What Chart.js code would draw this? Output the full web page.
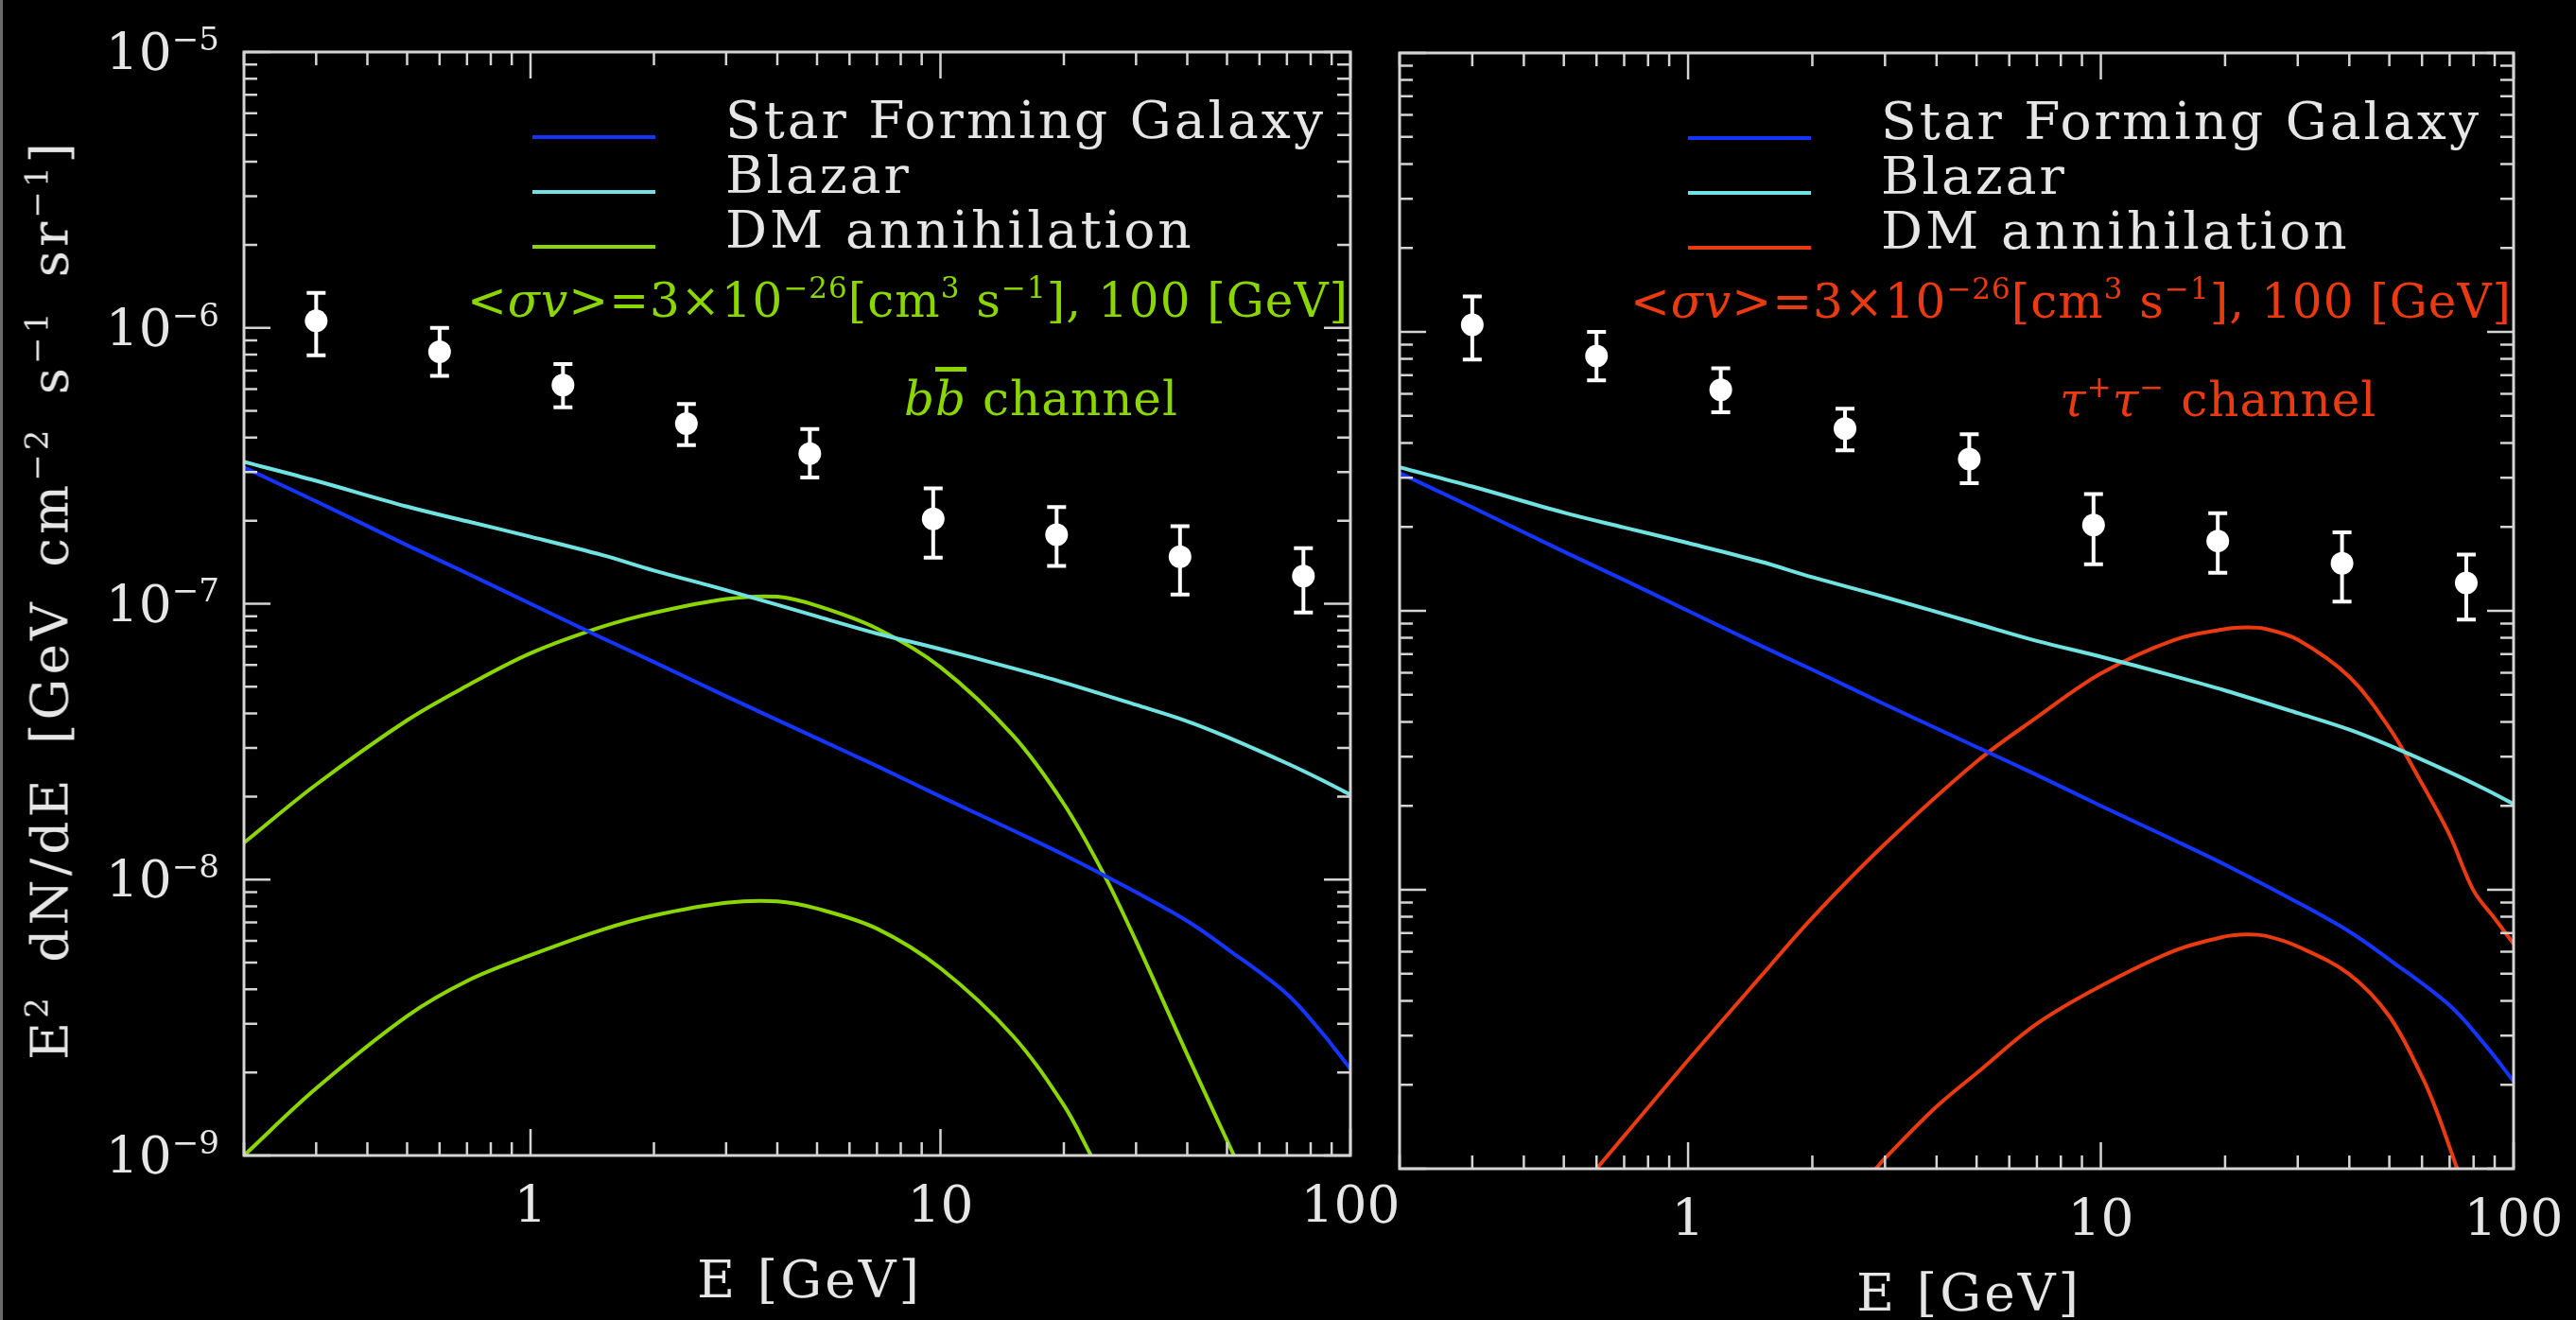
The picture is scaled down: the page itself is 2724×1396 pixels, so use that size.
<!DOCTYPE html>
<html lang="en">
<head>
<meta charset="UTF-8">
<title>Diffuse gamma-ray spectrum: SFG, blazar and DM annihilation</title>
<script src="https://cdn.jsdelivr.net/npm/chart.js"></script>
<style>
  * { margin: 0; padding: 0; box-sizing: border-box; }
  html, body { background: #000; }
  body {
    width: 2724px; height: 1396px; position: relative; overflow: hidden;
    font-family: 'DejaVu Serif', serif; color: #e6e6e6;
  }
  canvas { position: absolute; top: 0; }
  #edge { position: absolute; left: 0; top: 0; width: 3px; height: 1396px; background: #6a6a6a; }
  .lbl { position: absolute; white-space: nowrap; line-height: 1; }
  .lbl sup { font-size: 0.62em; position: relative; top: -0.62em; vertical-align: baseline; }
  .tick { font-size: 55px; }
  .axis { font-size: 55px; letter-spacing: 3px; }
  .legend { font-size: 55px; letter-spacing: 3px; }
  .note { font-size: 50px; letter-spacing: 1px; }
  .swatch { position: absolute; height: 4px; }
  #ytitle { font-size: 55px; letter-spacing: 4px; word-spacing: 12px; }
</style>
</head>
<body>
<div id="edge"></div>
<canvas id="left" width="1450" height="1396" style="left:0"></canvas>
<canvas id="right" width="1274" height="1396" style="left:1450px"></canvas>

<script>
// shared energy grid [GeV] for the astrophysical components
const energyGrid = [0.2, 0.3, 0.5, 0.7, 1, 1.5, 2, 3, 5, 7, 10, 15, 20, 30, 40, 50, 70, 85, 100];
const starFormingFlux = [3.12e-7, 2.35e-7, 1.63e-7, 1.29e-7, 1.0e-7, 7.5e-8, 6.15e-8, 4.62e-8, 3.25e-8,
                         2.58e-8, 2.0e-8, 1.51e-8, 1.23e-8, 9.0e-9, 7.08e-9, 5.62e-9, 3.85e-9, 2.8e-9, 2.06e-9];
const blazarFlux = [3.27e-7, 2.79e-7, 2.25e-7, 1.99e-7, 1.75e-7, 1.50e-7, 1.32e-7, 1.12e-7, 9.0e-8,
                    7.8e-8, 6.85e-8, 5.84e-8, 5.18e-8, 4.30e-8, 3.75e-8, 3.29e-8, 2.64e-8, 2.3e-8, 2.03e-8];

// b bbar channel, two normalisations
const bbUpperE    = [0.2, 0.3, 0.5, 0.7, 1, 1.5, 2, 3, 4, 5, 7, 10, 15, 20, 25, 30, 40, 52];
const bbUpperFlux = [1.36e-8, 2.21e-8, 3.78e-8, 5.04e-8, 6.61e-8, 8.26e-8, 9.27e-8, 1.04e-7, 1.06e-7, 9.83e-8,
                     8.13e-8, 5.89e-8, 3.34e-8, 1.88e-8, 1.05e-8, 5.98e-9, 2.32e-9, 1.0e-9];
const bbLowerE    = [0.2, 0.3, 0.5, 0.7, 1, 1.5, 2, 3, 4, 5, 7, 10, 15, 20, 23.3];
const bbLowerFlux = [1.0e-9, 1.75e-9, 3.20e-9, 4.29e-9, 5.32e-9, 6.59e-9, 7.41e-9, 8.24e-9, 8.34e-9, 7.85e-9,
                     6.64e-9, 4.77e-9, 2.72e-9, 1.52e-9, 1.0e-9];

// tau+ tau- channel, two normalisations
const tauUpperE    = [0.6, 0.7, 1, 1.5, 2, 3, 5, 7, 10, 15, 20, 22.5, 25, 30, 40, 50, 60, 70, 80, 90, 100];
const tauUpperFlux = [1.0e-9, 1.31e-9, 2.45e-9, 4.89e-9, 7.94e-9, 1.46e-8, 2.88e-8, 4.15e-8, 5.96e-8, 7.85e-8,
                      8.6e-8, 8.72e-8, 8.62e-8, 7.88e-8, 5.80e-8, 3.80e-8, 2.40e-8, 1.57e-8, 9.93e-9, 7.89e-9, 6.4e-9];
const tauLowerE    = [2.85, 3, 4, 5, 7, 10, 15, 20, 22.5, 25, 30, 40, 50, 60, 65, 73];
const tauLowerFlux = [1.0e-9, 1.09e-9, 1.67e-9, 2.20e-9, 3.31e-9, 4.52e-9, 6.03e-9, 6.8e-9, 6.92e-9, 6.84e-9,
                      6.26e-9, 4.98e-9, 3.52e-9, 2.14e-9, 1.62e-9, 1.0e-9];

// measured background with 1-sigma limits
const obsE    = [0.3, 0.6, 1.2, 2.4, 4.8, 9.6, 19.2, 38.4, 76.8];
const obsFlux = [1.06e-6, 8.2e-7, 6.2e-7, 4.5e-7, 3.5e-7, 2.03e-7, 1.78e-7, 1.48e-7, 1.26e-7];
const obsHigh = [1.34e-6, 1.0e-6, 7.4e-7, 5.3e-7, 4.3e-7, 2.62e-7, 2.24e-7, 1.91e-7, 1.59e-7];
const obsLow  = [7.96e-7, 6.7e-7, 5.15e-7, 3.76e-7, 2.87e-7, 1.47e-7, 1.37e-7, 1.08e-7, 9.3e-8];

const xTickLabels = ['1', '10', '100'];
const yTickExponents = [-9, -8, -7, -6, -5];
const legendNames = ['Star Forming Galaxy', 'Blazar', 'DM annihilation'];

const BLUE = '#1535ff', CYAN = '#70e2e2', GREEN = '#8cd600', RED = '#ea3a12';
const FRAME = '#d4d4d4';

const pairs = (xs, ys) => xs.map((x, i) => ({ x, y: ys[i] }));

function curve(xs, ys, color) {
  return {
    data: pairs(xs, ys), showLine: true, borderColor: color, borderWidth: 4,
    pointRadius: 0, tension: 0.35, fill: false
  };
}

// box with inward ticks on all four sides
const framePlugin = {
  id: 'frame',
  afterDatasetsDraw(chart) {
    const { ctx, chartArea: a, scales: { x, y } } = chart;
    ctx.save();
    ctx.strokeStyle = FRAME;
    ctx.lineWidth = 2.5;
    ctx.beginPath();
    for (let d = -1; d <= 2; d++) {
      for (let m = 1; m <= 9; m++) {
        const v = m * Math.pow(10, d);
        if (v < x.min * 0.999 || v > x.max * 1.001) continue;
        const px = x.getPixelForValue(v), len = m === 1 ? 28 : 14;
        ctx.moveTo(px, a.bottom); ctx.lineTo(px, a.bottom - len);
        ctx.moveTo(px, a.top); ctx.lineTo(px, a.top + len);
      }
    }
    for (let d = -9; d <= -5; d++) {
      for (let m = 1; m <= 9; m++) {
        const v = m * Math.pow(10, d);
        if (v < y.min * 0.999 || v > y.max * 1.001) continue;
        const py = y.getPixelForValue(v), len = m === 1 ? 28 : 14;
        ctx.moveTo(a.left, py); ctx.lineTo(a.left + len, py);
        ctx.moveTo(a.right, py); ctx.lineTo(a.right - len, py);
      }
    }
    ctx.stroke();
    ctx.lineWidth = 3;
    ctx.strokeRect(a.left, a.top, a.right - a.left, a.bottom - a.top);
    ctx.restore();
  }
};

// vertical error bars with caps for the measured points
const errorBarPlugin = {
  id: 'errorBars',
  afterDatasetsDraw(chart) {
    const { ctx, scales: { x, y } } = chart;
    ctx.save();
    ctx.strokeStyle = '#fff';
    ctx.lineWidth = 4;
    ctx.beginPath();
    obsE.forEach((e, i) => {
      const px = x.getPixelForValue(e);
      const hi = y.getPixelForValue(obsHigh[i]), lo = y.getPixelForValue(obsLow[i]);
      ctx.moveTo(px, hi); ctx.lineTo(px, lo);
      ctx.moveTo(px - 10, hi); ctx.lineTo(px + 10, hi);
      ctx.moveTo(px - 10, lo); ctx.lineTo(px + 10, lo);
    });
    ctx.stroke();
    ctx.restore();
  }
};

function makePanel(id, dmColor, dmCurves, padding) {
  const datasets = [
    curve(energyGrid, starFormingFlux, BLUE),
    curve(energyGrid, blazarFlux, CYAN),
    ...dmCurves.map(([xs, ys]) => curve(xs, ys, dmColor)),
    { data: pairs(obsE, obsFlux), pointRadius: 12, pointBackgroundColor: '#fff',
      pointBorderWidth: 0, showLine: false }
  ];
  return new Chart(document.getElementById(id), {
    type: 'scatter',
    data: { datasets },
    options: {
      responsive: false, animation: false, events: [],
      layout: { padding, autoPadding: false },
      plugins: { legend: { display: false }, tooltip: { enabled: false } },
      scales: {
        x: { type: 'logarithmic', min: 0.2, max: 100, display: false },
        y: { type: 'logarithmic', min: 1e-9, max: 1e-5, display: false }
      }
    },
    plugins: [errorBarPlugin, framePlugin]
  });
}

const leftChart = makePanel('left', GREEN,
  [[bbUpperE, bbUpperFlux], [bbLowerE, bbLowerFlux]],
  { left: 258, right: 22, top: 55, bottom: 174 });
const rightChart = makePanel('right', RED,
  [[tauUpperE, tauUpperFlux], [tauLowerE, tauLowerFlux]],
  { left: 30, right: 66, top: 56, bottom: 160 });

// ---- text overlay, positioned from the chart scales ----
function put(html, x, y, cls, anchor, color) {
  const d = document.createElement('div');
  d.className = 'lbl ' + cls;
  d.innerHTML = html;
  if (color) d.style.color = color;
  document.body.appendChild(d);
  const fs = parseFloat(getComputedStyle(d).fontSize);
  const tx = anchor[0] === 'c' ? '-50%' : anchor[0] === 'r' ? '-100%' : '0';
  let top = y, ty = '0';
  if (anchor[1] === 'c') ty = '-50%';
  else if (anchor[1] === 'b') top = y - 0.846 * fs;
  d.style.left = x + 'px';
  d.style.top = top + 'px';
  d.style.transform = `translate(${tx}, ${ty})`;
  return d;
}

function decorate(chart, dmColor, noteHtml, channelHtml) {
  const off = chart.canvas.offsetLeft;
  const a = chart.chartArea, xs = chart.scales.x;
  xTickLabels.forEach(t => put(t, off + xs.getPixelForValue(+t), a.bottom + 52, 'tick', 'cc'));
  put('E [GeV]', off + (a.left + a.right) / 2 + 13, a.bottom + 131, 'axis', 'cc');

  const colors = [BLUE, CYAN, dmColor];
  legendNames.forEach((name, i) => {
    const y = a.top + 90 + i * 58;
    const s = document.createElement('div');
    s.className = 'swatch';
    s.style.cssText = `left:${off + a.left + 305}px;top:${y - 2}px;width:130px;background:${colors[i]}`;
    document.body.appendChild(s);
    put(name, off + a.left + 509, y + 2, 'legend', 'lb');
  });
  put(noteHtml, off + a.right - 2, a.top + 280, 'note', 'rb', dmColor);
  put(channelHtml, off + a.left + 698, a.top + 384, 'note', 'lb', dmColor);
}

const sigmaNote = '&lt;<i>σv</i>&gt;=3×10<sup>−26</sup>[cm<sup>3</sup> s<sup>−1</sup>], 100 [GeV]';
decorate(leftChart, GREEN, sigmaNote,
  '<i>b</i><i style="text-decoration:overline">b</i> channel');
decorate(rightChart, RED, sigmaNote,
  '<i>τ</i><sup>+</sup><i>τ</i><sup>−</sup> channel');

// decade labels on the left panel only
yTickExponents.forEach(k => {
  const py = leftChart.scales.y.getPixelForValue(Math.pow(10, k));
  put(`10<sup>−${-k}</sup>`, 232, py, 'tick', 'rc');
});

// rotated y-axis title
const yt = document.createElement('div');
yt.id = 'ytitle';
yt.className = 'lbl';
yt.innerHTML = 'E<sup>2</sup> dN/dE [GeV cm<sup>−2</sup> s<sup>−1</sup> sr<sup>−1</sup>]';
document.body.appendChild(yt);
const ya = leftChart.chartArea;
yt.style.left = '53px';
yt.style.top = ((ya.top + ya.bottom) / 2 - 5) + 'px';
yt.style.transform = 'translate(-50%, -50%) rotate(-90deg)';
</script>
</body>
</html>
